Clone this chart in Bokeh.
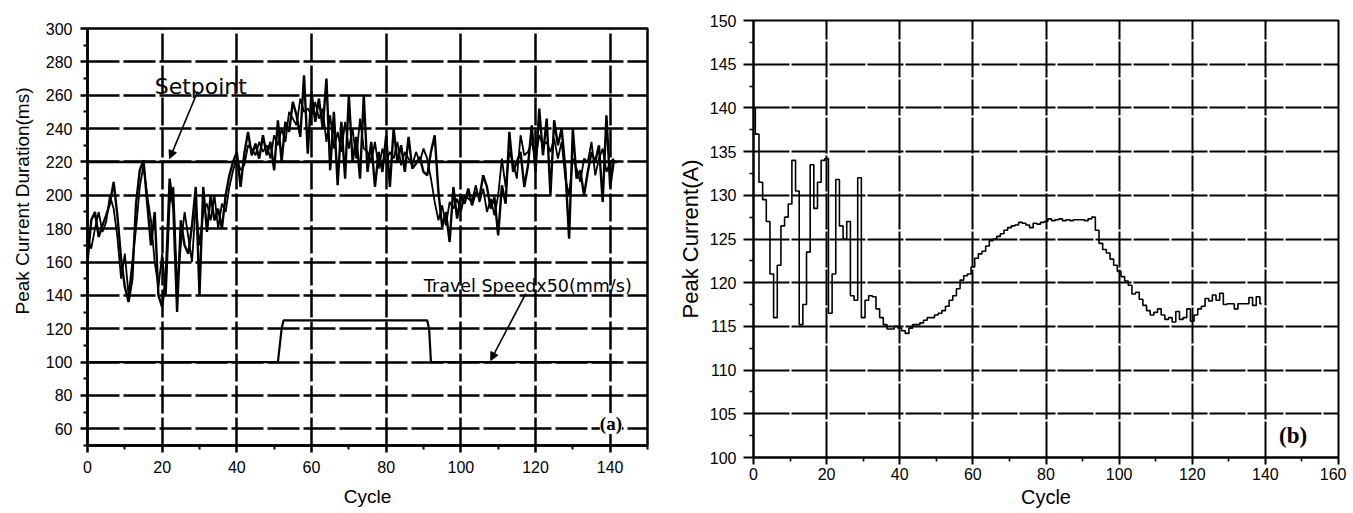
from bokeh.plotting import figure
from bokeh.layouts import row, column
from bokeh.models import FixedTicker, Label, Arrow, NormalHead, Range1d, Title
from bokeh.embed import file_html
from bokeh.resources import INLINE

# ---------------- data: panel (a) ----------------
cycles_a = list(range(142))
duration_1 = [160, 185, 190, 175, 182, 188, 195, 208, 188, 162,
              145, 136, 150, 195, 215, 221, 195, 170, 190, 140,
              133, 152, 210, 192, 130, 185, 170, 165, 182, 205,
              140, 205, 178, 200, 185, 192, 180, 200, 212, 220,
              226, 205, 225, 238, 224, 231, 222, 236, 224, 232,
              215, 245, 220, 244, 238, 256, 248, 235, 272, 225,
              262, 244, 258, 240, 270, 215, 250, 206, 244, 210,
              260, 220, 235, 210, 260, 214, 232, 205, 226, 214,
              236, 205, 240, 220, 230, 214, 235, 216, 219, 223,
              214, 212, 226, 236, 202, 181, 190, 172, 205, 186,
              200, 195, 204, 194, 202, 199, 212, 205, 192, 199,
              176, 206, 195, 238, 214, 220, 226, 205, 218, 242,
              214, 252, 224, 246, 200, 245, 230, 240, 216, 174,
              240, 210, 215, 200, 214, 226, 220, 230, 196, 248,
              205, 221]
duration_2 = [175, 168, 180, 190, 178, 184, 200, 192, 175, 150,
              165, 140, 160, 180, 205, 218, 200, 185, 160, 145,
              165, 140, 195, 205, 145, 170, 190, 175, 160, 195,
              170, 190, 195, 185, 200, 180, 195, 190, 205, 215,
              222, 215, 218, 230, 228, 224, 232, 226, 230, 222,
              236, 230, 240, 232, 250, 246, 242, 258, 250, 252,
              248, 256, 246, 252, 232, 248, 228, 238, 226, 244,
              228, 240, 222, 246, 228, 226, 220, 232, 216, 228,
              220, 226, 222, 232, 218, 226, 222, 218, 226, 220,
              228, 222, 210, 196, 185, 194, 182, 196, 192, 198,
              190, 200, 198, 196, 206, 196, 204, 190, 198, 188,
              200, 222, 205, 226, 220, 210, 236, 224, 226, 232,
              222, 236, 230, 232, 226, 234, 222, 232, 210, 200,
              222, 216, 208, 222, 220, 232, 212, 222, 228, 214,
              220, 222]
setpoint_x = [0, 142]
setpoint_y = [220, 220]
speed_x = [0, 51, 51.5, 52, 52.5, 91, 91.5, 92, 142]
speed_y = [100, 100, 110, 120, 125, 125, 120, 100, 100]

xticks_a = [0, 20, 40, 60, 80, 100, 120, 140]
xminor_a = [10, 30, 50, 70, 90, 110, 130, 150]
yticks_a = [60, 80, 100, 120, 140, 160, 180, 200, 220, 240, 260, 280, 300]
yminor_a = [50, 70, 90, 110, 130, 150, 170, 190, 210, 230, 250, 270, 290]

# ---------------- data: panel (b) ----------------
cycles_b = list(range(140))
peak_current = [140, 137, 131.5, 129.5, 127, 121, 116, 122, 126.5, 127.5,
                129, 134, 130.5, 115.2, 117.5, 123.5, 133.5, 128.5, 131.5, 134,
                134.2, 116.5, 121, 131.8, 126.5, 125, 127, 118.5, 118, 132,
                116, 118, 118.5, 118.4, 117, 116, 115.2, 114.7, 114.7, 115,
                114.8, 114.5, 114.2, 114.8, 115.2, 115.2, 115.4, 115.7, 116, 116,
                116.3, 116.5, 116.8, 117.3, 118, 118.5, 119.3, 120.3, 120.8, 121,
                121.8, 122.8, 123.3, 123.6, 124.2, 124.8, 125, 125.3, 125.6, 126,
                126.3, 126.5, 126.6, 126.9, 126.8, 126.6, 126.3, 126.8, 126.7, 126.9,
                127, 127.3, 127.1, 127.2, 127.3, 127.1, 127.2, 127.1, 127.2, 127.2,
                127.2, 127.1, 127.3, 127.5, 126, 124.5, 123.8, 123.4, 122.7, 122,
                121.3, 120.7, 120.2, 119.7, 118.7, 118.9, 118.1, 117.4, 116.8, 116.3,
                116.6, 117, 116.3, 115.8, 116, 115.5, 116.7, 115.8, 116, 117,
                115.6, 116.3, 117, 117.3, 118.2, 117.9, 118.6, 118, 118.8, 117.5,
                117.6, 117.6, 117, 117.6, 117.6, 117.6, 118.3, 117.4, 118.4, 117.6]

xticks_b = [0, 20, 40, 60, 80, 100, 120, 140, 160]
xminor_b = [10, 30, 50, 70, 90, 110, 130, 150]
yticks_b = [100, 105, 110, 115, 120, 125, 130, 135, 140, 145, 150]
yminor_b = [102.5, 107.5, 112.5, 117.5, 122.5, 127.5, 132.5, 137.5, 142.5, 147.5]

FONT = "Liberation Sans"


def style_axes(p, lw, tick_out_major, tick_out_minor):
    for ax in (p.xaxis[0], p.yaxis[0]):
        ax.axis_line_width = lw
        ax.axis_line_color = "black"
        ax.major_tick_line_width = lw
        ax.minor_tick_line_width = lw * 0.8
        ax.major_tick_line_color = "black"
        ax.minor_tick_line_color = "black"
        ax.major_tick_out = tick_out_major
        ax.major_tick_in = 0
        ax.minor_tick_out = tick_out_minor
        ax.minor_tick_in = 0
        ax.major_label_text_font = FONT
        ax.major_label_text_font_size = "16px"
        ax.major_label_text_color = "black"
        ax.axis_label_text_font = FONT
        ax.axis_label_text_font_size = "19px"
        ax.axis_label_text_font_style = "normal"
        ax.axis_label_text_color = "black"


# ---------------- panel (a) ----------------
pa = figure(frame_width=560, frame_height=417,
            min_border_left=87, min_border_right=27,
            min_border_top=28, min_border_bottom=65,
            x_range=Range1d(0, 150), y_range=Range1d(50, 300),
            output_backend="svg", toolbar_location=None)
pa.outline_line_color = "black"
pa.outline_line_width = 2.5
pa.xaxis.ticker = FixedTicker(ticks=xticks_a, minor_ticks=xminor_a)
pa.yaxis.ticker = FixedTicker(ticks=yticks_a, minor_ticks=yminor_a)
pa.xaxis.axis_label = "Cycle"
style_axes(pa, 2.5, 7, 4)
pa.xaxis.major_label_standoff = 8
pa.yaxis.major_label_standoff = 8
pa.xaxis.axis_label_standoff = 10
for g in (pa.xgrid[0], pa.ygrid[0]):
    g.grid_line_color = "black"
    g.grid_line_width = 2.5
    g.grid_line_alpha = 1.0
pa.ygrid.grid_line_dash = "32 4"
pa.xgrid.grid_line_dash = "28 4"

pa.line(cycles_a, duration_2, line_color="black", line_width=1.8)
pa.line(cycles_a, duration_1, line_color="black", line_width=2.4)
pa.line(setpoint_x, setpoint_y, line_color="black", line_width=2.5)
pa.line(speed_x, speed_y, line_color="black", line_width=2.2)

# y-axis title of panel (a): sits above the frame centre, as in the reference
pa.add_layout(Title(text="Peak Current Duration(ms)", align="right", offset=59,
                    vertical_align="middle", standoff=18, text_font=FONT,
                    text_font_size="19px", text_font_style="normal",
                    text_color="black"), "left")
pa.add_layout(Label(x=18.0, y=265.2, text="Setpoint", text_font="DejaVu Sans",
                    text_font_size="22px", text_color="black",
                    text_align="left", text_baseline="alphabetic"))
pa.add_layout(Arrow(end=NormalHead(size=8, fill_color="black", line_color="black"),
                    x_start=29.5, y_start=262.2, x_end=22.0, y_end=222.0,
                    line_color="black", line_width=1.6))
pa.add_layout(Label(x=90.1, y=145.9, text="Travel Speedx50(mm/s)",
                    text_font="DejaVu Sans", text_font_size="17.5px",
                    text_color="black", text_align="left",
                    text_baseline="alphabetic"))
pa.add_layout(Arrow(end=NormalHead(size=8, fill_color="black", line_color="black"),
                    x_start=117.4, y_start=141.1, x_end=108.0, y_end=101.0,
                    line_color="black", line_width=1.6))
pa.add_layout(Label(x=140.2, y=63.2, text="(a)", text_font="Liberation Serif",
                    text_font_style="bold", text_font_size="19px",
                    text_color="black", text_align="center",
                    text_baseline="middle", background_fill_color="white"))

# ---------------- panel (b) ----------------
pb = figure(frame_width=585, frame_height=437,
            min_border_left=75, min_border_right=8,
            min_border_top=20, min_border_bottom=54,
            x_range=Range1d(0, 160), y_range=Range1d(100, 150),
            output_backend="svg", toolbar_location=None)
pb.outline_line_color = "black"
pb.outline_line_width = 2
pb.xaxis.ticker = FixedTicker(ticks=xticks_b, minor_ticks=xminor_b)
pb.yaxis.ticker = FixedTicker(ticks=yticks_b, minor_ticks=yminor_b)
pb.xaxis.axis_label = "Cycle"
pb.yaxis.axis_label = "Peak Current(A)"
style_axes(pb, 2, 7, 4)
pb.yaxis.major_tick_out = 10
pb.yaxis.axis_label_text_font_size = "22px"
pb.xaxis.axis_label_text_font_size = "20px"
pb.xaxis.major_label_standoff = 3
pb.yaxis.major_label_standoff = 7
pb.xaxis.axis_label_standoff = 3
pb.yaxis.axis_label_standoff = 4
for g in (pb.xgrid[0], pb.ygrid[0]):
    g.grid_line_color = "black"
    g.grid_line_width = 2
    g.grid_line_alpha = 1.0
    g.grid_line_dash = "36 2"

pb.step(cycles_b, peak_current, mode="center", line_color="black", line_width=1.6)

pb.add_layout(Label(x=147.6, y=102.5, text="(b)", text_font="Liberation Serif",
                    text_font_style="bold", text_font_size="23px",
                    text_color="black", text_align="center",
                    text_baseline="middle", background_fill_color="white"))

# wrapping (b) in its own column keeps the row from aligning the two frames
layout = row(pa, column(pb))
open("out.html", "w").write(file_html(layout, INLINE))
